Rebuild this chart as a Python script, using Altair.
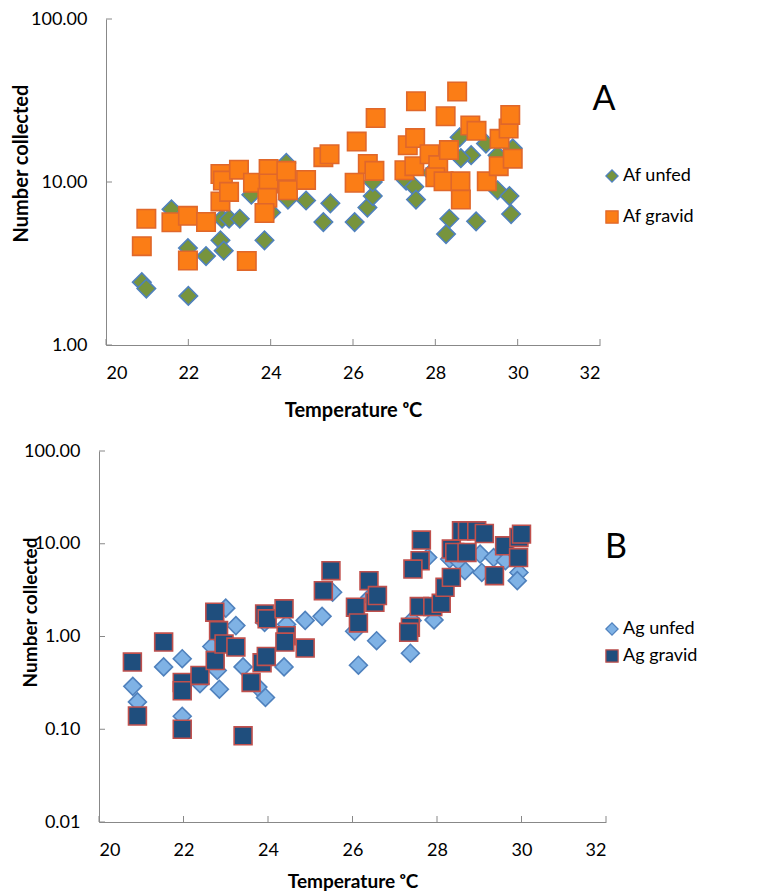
import altair as alt
import pandas as pd

# ---- Panel A data (Anopheles funestus) ----
af_unfed_t = [20.87, 20.98, 21.59, 21.99, 22.0, 22.43, 22.78, 22.86, 22.82, 22.99, 23.25, 23.53, 23.85,
              24.01, 24.38, 24.42, 24.86, 25.28, 25.45, 26.04, 26.35, 26.48, 26.48, 27.29, 27.49, 27.53,
              27.9, 28.34, 28.26, 28.99, 28.59, 28.87, 28.62, 29.23, 29.51, 29.8, 29.84, 29.88, 29.51]
af_unfed_n = [2.43, 2.22, 6.8, 3.93, 2.0, 3.51, 4.39, 3.79, 5.95, 5.95, 5.95, 8.35, 4.39,
              6.5, 13.1, 7.8, 7.7, 5.68, 7.4, 5.68, 6.97, 8.2, 10.0, 10.2, 9.35, 7.8,
              11.4, 5.95, 4.79, 5.74, 18.8, 14.6, 14.0, 17.2, 8.9, 8.2, 6.36, 16.1, 14.6]
af_gravid_t = [20.98, 20.87, 21.59, 21.99, 21.99, 22.43, 22.78, 22.78, 22.84, 22.99, 23.23, 23.42, 23.57,
               23.95, 23.95, 23.92, 23.85, 24.38, 24.42, 24.86, 25.28, 25.43, 26.09, 26.04, 26.55, 26.36,
               26.52, 27.53, 27.33, 27.51, 27.25, 27.49, 27.86, 28.07, 28.0, 28.2, 28.33, 28.25, 28.53,
               28.61, 28.62, 28.85, 29.0, 29.25, 29.56, 29.54, 29.78, 29.82, 29.88]
af_gravid_n = [5.95, 4.04, 5.66, 6.2, 3.3, 5.68, 11.2, 7.6, 10.2, 8.7, 11.9, 3.28, 9.9,
               12.0, 9.8, 8.0, 6.45, 11.7, 8.9, 10.3, 14.2, 14.8, 17.7, 9.9, 24.7, 12.9,
               11.7, 31.3, 16.8, 18.6, 11.8, 12.5, 14.8, 12.7, 10.7, 10.1, 15.7, 25.3, 35.9,
               10.1, 7.8, 22.2, 20.6, 10.1, 18.4, 12.5, 21.3, 25.8, 13.9]

# ---- Panel B data (Anopheles gambiae) ----
ag_unfed_t = [20.8, 20.91, 21.53, 21.97, 21.97, 22.39, 22.67, 22.8, 22.85, 23.0, 23.24, 23.41, 23.76,
              23.94, 23.92, 24.38, 24.44, 24.88, 25.28, 25.53, 26.05, 26.14, 26.57, 26.41, 27.37,
              27.41, 27.93, 28.3, 28.66, 29.02, 29.06, 29.34, 29.62, 29.94, 29.9, 27.78, 28.5]
ag_unfed_n = [0.29, 0.197, 0.47, 0.576, 0.138, 0.31, 0.78, 0.43, 0.27, 2.02, 1.31, 0.47, 0.285,
              0.22, 1.42, 0.47, 1.35, 1.49, 1.65, 3.0, 1.14, 0.49, 0.9, 2.64, 0.66,
              1.49, 1.51, 6.84, 5.13, 7.75, 4.9, 7.1, 6.56, 4.9, 4.0, 7.1, 6.56]
ag_gravid_t = [20.79, 20.91, 21.53, 21.97, 21.97, 21.97, 22.39, 22.74, 22.75, 22.83, 22.96, 23.24, 23.6,
               23.41, 23.86, 23.96, 23.92, 23.98, 24.38, 24.43, 24.4, 24.88, 25.31, 25.49, 26.07,
               26.14, 26.39, 26.53, 26.59, 27.63, 27.6, 27.43, 27.58, 27.37, 27.33, 27.9, 28.1,
               28.19, 28.34, 28.34, 28.42, 28.58, 28.72, 28.94, 29.12, 28.71, 29.36, 29.6, 29.94,
               30.0, 29.93]
ag_gravid_n = [0.53, 0.139, 0.87, 0.32, 0.26, 0.1, 0.38, 1.83, 0.55, 1.16, 0.83, 0.77, 0.32,
               0.085, 0.52, 0.61, 1.75, 1.55, 1.99, 1.02, 0.87, 0.75, 3.12, 5.13, 2.07,
               1.4, 4.0, 2.34, 2.76, 10.96, 6.56, 5.34, 2.1, 1.26, 1.11, 2.1, 2.28,
               3.39, 4.34, 8.77, 8.07, 13.8, 13.8, 13.8, 12.9, 8.07, 4.53, 9.5, 11.7,
               12.7, 7.1]

x_ticks = [20, 22, 24, 26, 28, 30, 32]
ya_ticks = [1, 10, 100]
yb_ticks = [0.01, 0.1, 1, 10, 100]

FONT = "Lato"
AXIS_GREY = "#888888"


def frame(t1, n1, lab1, t2, n2, lab2):
    d1 = pd.DataFrame({"temp": t1, "n": n1, "series": lab1})
    d2 = pd.DataFrame({"temp": t2, "n": n2, "series": lab2})
    return pd.concat([d1, d2], ignore_index=True)


def panel(df, labels, fills, strokes, ydom, yticks, w, h, x0, size, lx, ly, rowpad,
          letter, tx, ty, title_size, xtitlepad, ytx, yty):
    xscale = alt.Scale(domain=[20, 32], nice=False, range=[x0, w])
    yscale = alt.Scale(type="log", domain=ydom, nice=False)
    legend = alt.Legend(title=None, orient="none", legendX=lx, legendY=ly, labelFontSize=18,
                        labelFont=FONT, symbolSize=150, rowPadding=rowpad, padding=0,
                        symbolStrokeWidth=1.2, labelColor="black", labelOffset=2)
    pts = alt.Chart(df).mark_point(filled=True, opacity=1, strokeWidth=1.6, size=size).encode(
        x=alt.X("temp:Q", scale=xscale,
                axis=alt.Axis(values=x_ticks, format="d", titlePadding=xtitlepad,
                              titleFontSize=title_size, title="Temperature \u1d52C")),
        y=alt.Y("n:Q", scale=yscale,
                axis=alt.Axis(values=yticks, format=".2f", title="Number collected",
                              offset=-x0, titleFontSize=title_size, titleX=ytx, titleY=yty,
                              titleAngle=270, titleBaseline="middle", titleAlign="center")),
        shape=alt.Shape("series:N", scale=alt.Scale(domain=labels, range=["diamond", "square"]),
                        legend=legend),
        fill=alt.Fill("series:N", scale=alt.Scale(domain=labels, range=fills), legend=legend),
        stroke=alt.Stroke("series:N", scale=alt.Scale(domain=labels, range=strokes), legend=legend),
    )
    # inward-pointing tick marks, placed through the panel's own scales
    xt = alt.Chart(pd.DataFrame({"temp": x_ticks})).mark_rule(color=AXIS_GREY, strokeWidth=1).encode(
        x=alt.X("temp:Q", scale=xscale), y=alt.value(h), y2=alt.value(h - 6))
    yt = alt.Chart(pd.DataFrame({"n": yticks})).mark_rule(color=AXIS_GREY, strokeWidth=1).encode(
        y=alt.Y("n:Q", scale=yscale), x=alt.value(x0), x2=alt.value(x0 + 6))
    txt = alt.Chart(pd.DataFrame({"t": [letter]})).mark_text(
        font=FONT, fontSize=34, color="black", align="center", baseline="middle"
    ).encode(text="t:N", x=alt.value(tx), y=alt.value(ty))
    return alt.layer(xt, yt, pts, txt).properties(width=w, height=h)


dfa = frame(af_unfed_t, af_unfed_n, "Af unfed", af_gravid_t, af_gravid_n, "Af gravid")
dfb = frame(ag_unfed_t, ag_unfed_n, "Ag unfed", ag_gravid_t, ag_gravid_n, "Ag gravid")

top = panel(dfa, ["Af unfed", "Af gravid"], ["#77943d", "#fb7d16"], ["#4f81bd", "#e0672a"],
            [1, 100], ya_ticks, 501, 326, 7, 340, 504, 148, 23, "A", 505, 81,
            20, 18, -85, 144)
bot = panel(dfb, ["Ag unfed", "Ag gravid"], ["#7fb2e5", "#1f4e7d"], ["#4f81bd", "#c0504d"],
            [0.01, 100], yb_ticks, 507, 371, 0, 320, 504, 169, 9, "B", 517, 97,
            19, 13, -69, 161)

chart = alt.vconcat(top, bot, spacing=22).resolve_scale(
    shape="independent", fill="independent", stroke="independent"
).configure_view(stroke=None).configure_axis(
    grid=False, domainColor=AXIS_GREY, ticks=False, tickSize=0,
    labelFont=FONT, labelFontSize=18, labelColor="black", labelPadding=19,
    titleFont=FONT, titleFontWeight="bold", titleColor="black",
).properties(
    padding={"left": 3, "top": 2, "right": 5, "bottom": 3}
)

chart.save("out.html", embed_options={"renderer": "svg", "actions": False})
